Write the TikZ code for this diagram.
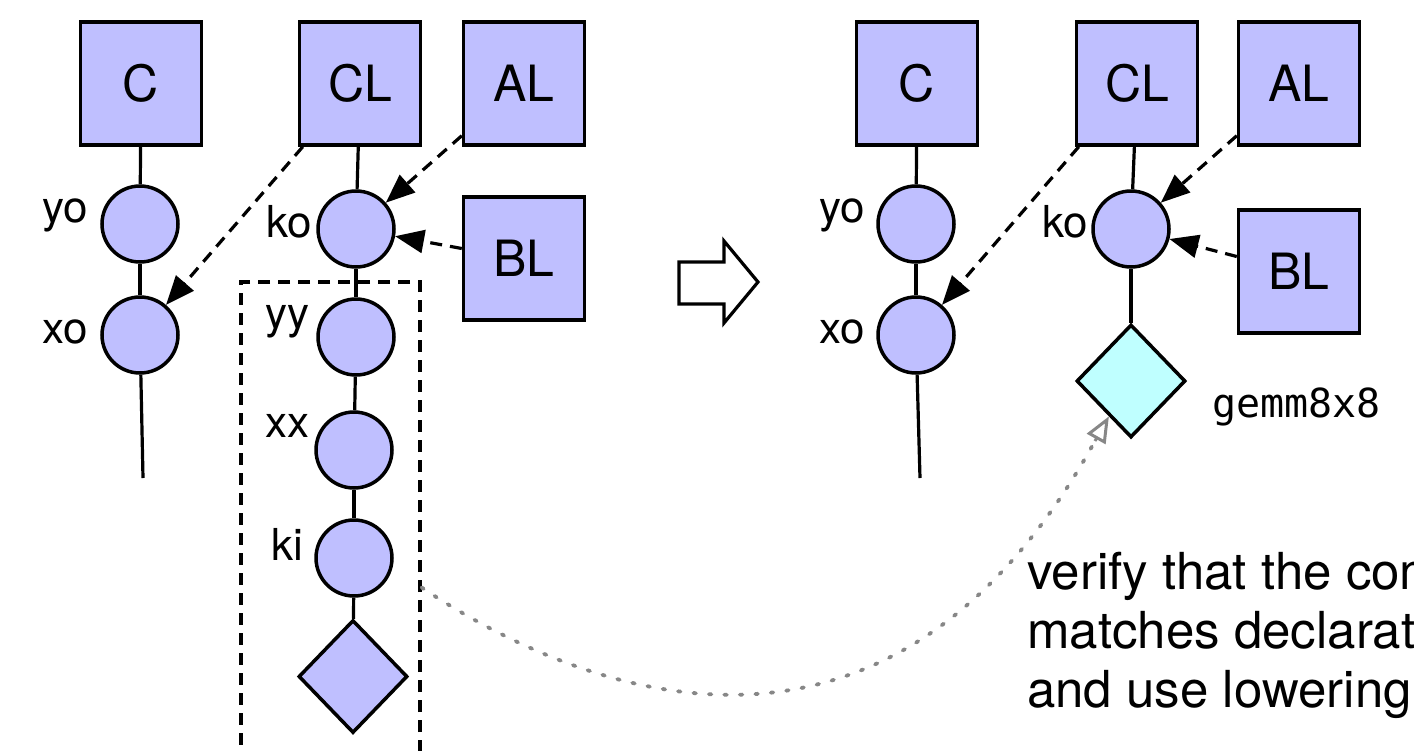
\documentclass[tikz,border=0pt]{standalone}
\usepackage{fontspec}
\setmainfont{TeX Gyre Heros}
\setmonofont{DejaVu Sans Mono}
\usetikzlibrary{shapes.geometric,arrows.meta}
\definecolor{tensorfill}{RGB}{191,191,255}
\definecolor{intrinfill}{RGB}{191,255,255}
\definecolor{hintgray}{RGB}{135,135,135}
\tikzset{
  buf/.style={draw, line width=3.5pt, fill=tensorfill, minimum width=121pt,
    minimum height=123pt, inner sep=0pt, font=\fontsize{50}{60}\selectfont},
  loopnode/.style={circle, draw, line width=3.5pt, fill=tensorfill,
    minimum size=76pt, inner sep=0pt},
  leaf/.style={diamond, draw, line width=3.5pt, fill=tensorfill,
    minimum width=109pt, minimum height=113pt, inner sep=0pt},
  varname/.style={anchor=base east, inner sep=0pt, font=\fontsize{44}{52}\selectfont},
  link/.style={line width=3.2pt},
  access/.style={line width=3.2pt, dash pattern=on 12pt off 8pt,
    -{Triangle[length=29pt,width=23pt]}},
  region/.style={draw, line width=3.2pt, dash pattern=on 12pt off 8pt,
    minimum width=179pt, minimum height=611pt, inner sep=0pt},
  hint/.style={draw=hintgray, line width=3.8pt, line cap=round,
    dash pattern=on 2.5pt off 13pt},
  hinttip/.style={draw=hintgray, line width=3pt,
    -{Triangle[open,length=26pt,width=21pt]}},
  note/.style={anchor=base west, inner sep=0pt, font=\fontsize{51}{59}\selectfont},
  codelabel/.style={anchor=base west, inner sep=0pt,
    font=\ttfamily\fontsize{40}{46}\selectfont},
}
\begin{document}
\begin{tikzpicture}[x=1pt,y=-1pt]
\clip (0,0) rectangle (1414,750);
\fill[white] (0,0) rectangle (1414,750);

% ---- loop nest before tensorization ----
\node[region] (grp) at (330.5,587.5) {};
\node[buf] (C) at (141,83.5) {C};
\node[buf] (CL) at (360,83.5) {CL};
\node[buf] (AL) at (524,83.5) {AL};
\node[buf] (BL) at (524,258.5) {BL};
\node[loopnode] (yo) at (140,224) {};
\node[loopnode] (xo) at (140,335) {};
\node[loopnode] (ko) at (356,229) {};
\node[loopnode] (yy) at (356,337) {};
\node[loopnode] (xx) at (354,450) {};
\node[loopnode] (ki) at (354,558) {};
\node[leaf] (body) at (353,676.5) {};
\coordinate (xoend) at (143,478);

\node[varname] (lyo) at (88,222) {yo};
\node[varname] (lxo) at (88,343) {xo};
\node[varname] (lko) at (312,237) {ko};
\node[varname] (lyy) at (310,328) {yy};
\node[varname] (lxx) at (310,437) {xx};
\node[varname] (lki) at (303,560) {ki};

\draw[link] (C) -- (yo);
\draw[link] (yo) -- (xo);
\draw[link] (xo) -- (xoend);
\draw[link] (CL) -- (ko);
\draw[link] (ko) -- (yy);
\draw[link] (yy) -- (xx);
\draw[link] (xx) -- (ki);
\draw[link] (ki) -- (body);

\draw[access] ([xshift=5pt]CL.south west) -- (xo);
\draw[access] ([yshift=11pt]AL.south west) -- (ko);
\draw[access] ([yshift=10pt]BL.west) -- (ko);

% ---- transformation arrow ----
\draw[line width=3.2pt, fill=white, line join=miter]
  (679,262) -- (724,262) -- (724,241) -- (758,282) -- (724,323)
  -- (724,304) -- (679,304) -- cycle;

% ---- loop nest after tensorization ----
\node[buf] (C2) at (917,83.5) {C};
\node[buf] (CL2) at (1137,83.5) {CL};
\node[buf] (AL2) at (1299,83.5) {AL};
\node[buf] (BL2) at (1299,271.5) {BL};
\node[loopnode] (yo2) at (916,224) {};
\node[loopnode] (xo2) at (916,335) {};
\node[loopnode] (ko2) at (1131,229) {};
\node[leaf, fill=intrinfill] (gemm) at (1131,381) {};
\node[codelabel] (gname) at (1212,417) {gemm8x8};
\coordinate (xo2end) at (920,478);

\node[varname] (lyo2) at (865,222) {yo};
\node[varname] (lxo2) at (865,343) {xo};
\node[varname] (lko2) at (1088,237) {ko};

\draw[link] (C2) -- (yo2);
\draw[link] (yo2) -- (xo2);
\draw[link] (xo2) -- (xo2end);
\draw[link] (CL2) -- (ko2);
\draw[link] (ko2) -- (gemm);

\draw[access] ([xshift=4pt]CL2.south west) -- (xo2);
\draw[access] ([yshift=11pt]AL2.south west) -- (ko2);
\draw[access] ([yshift=15pt]BL2.west) -- (ko2);

% ---- correspondence check: dotted curve, solid open tip ----
\coordinate (hintend) at (1095,441);
\draw[hint] (grp.east) .. controls (560,680) and (880,830) .. (hintend);
\draw[hinttip] (hintend) -- (gemm.238);

\node[note] (n1) at (1027,589) {verify that the computation};
\node[note] (n2) at (1027,648) {matches declaration};
\node[note] (n3) at (1027,707) {and use lowering};
\end{tikzpicture}
\end{document}
